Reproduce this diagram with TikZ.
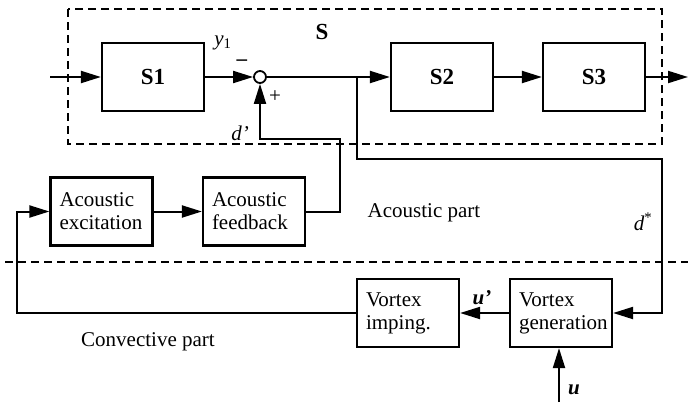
\documentclass[tikz,border=0pt]{standalone}
\usepackage{fontspec}
\setmainfont{Liberation Serif}
\usetikzlibrary{arrows.meta}
\tikzset{
  block/.style={draw,line width=2.2pt,minimum width=102pt,minimum height=68pt,
    inner sep=0pt,font=\fontsize{21}{23}\selectfont},
  txtblock/.style={block,align=left,text width=84pt},
  wire/.style={line width=2pt},
  sig/.style={wire,-{Triangle[length=20pt,width=12pt]}},
  border/.style={line width=2pt,dash pattern=on 8pt off 5pt},
  lbl/.style={font=\fontsize{21}{23}\selectfont}
}
\begin{document}
\begin{tikzpicture}[x=1pt,y=-1pt]
\useasboundingbox (0,0) rectangle (688,402);
% subsystem S
\draw[border] (68,9) rectangle (662,144);
\node[lbl,font=\fontsize{23}{25}\selectfont\bfseries] (slbl) at (322,32) {S};
\node[block,font=\fontsize{23}{25}\selectfont\bfseries] (s1) at (153,77) {S1};
\node[draw,circle,line width=1.8pt,minimum size=12pt,inner sep=0pt] (sum) at (260,77) {};
\node[block,font=\fontsize{23}{25}\selectfont\bfseries] (s2) at (442,77) {S2};
\node[block,font=\fontsize{23}{25}\selectfont\bfseries] (s3) at (594,77) {S3};
\coordinate (in) at (50,77);
\coordinate (out) at (688,77);
\coordinate (br) at (357,77);
\coordinate (fbc) at (340,139);
\coordinate (dc) at (662,159);
% acoustic blocks
\node[txtblock] (ae) at (101.5,211.5) {Acoustic\\excitation};
\node[txtblock] (fb) at (254,211.5) {Acoustic\\feedback};
% convective blocks
\node[txtblock] (vi) at (408,313) {Vortex\\imping.};
\node[txtblock] (vg) at (561,313) {Vortex\\generation};
\coordinate (lc) at (17,313);
\coordinate (uin) at (559,402);
% separation line
\draw[border,line width=1.6pt] (5,262) -- (688,262);
% signals
\draw[sig] (in) -- (s1);
\draw[sig] (s1) -- (sum);
\draw[wire] (sum) -- (br);
\draw[sig] (br) -- (s2);
\draw[sig] (s2) -- (s3);
\draw[sig] (s3) -- (out);
\draw[sig] (fb.east) -| (fbc) -| (sum.south);
\draw[sig] (br) |- (dc) |- (vg.east);
\draw[sig] (vg) -- (vi);
\draw[sig] (vi.west) -- (lc) |- (ae.west);
\draw[sig] (ae) -- (fb);
\draw[sig] (uin) -- (uin |- vg.south);
% labels
\node[lbl] (ylbl) at (223,43) {\textit{y}\textsubscript{1}};
\node[lbl] (minus) at (242,63) {\textbf{--}};
\node[lbl] (plus) at (275,97) {+};
\node[lbl] (dlbl) at (240,133) {\textit{d’}};
\node[lbl] (dstar) at (643,222) {\textit{d}\textsuperscript{*}};
\node[lbl] (ulbl) at (482,298) {\textbf{\textit{u’}}};
\node[lbl] (u) at (574,390) {\textbf{\textit{u}}};
\node[lbl] (apart) at (424,213) {Acoustic part};
\node[lbl] (cpart) at (148,342) {Convective part};
\end{tikzpicture}
\end{document}
